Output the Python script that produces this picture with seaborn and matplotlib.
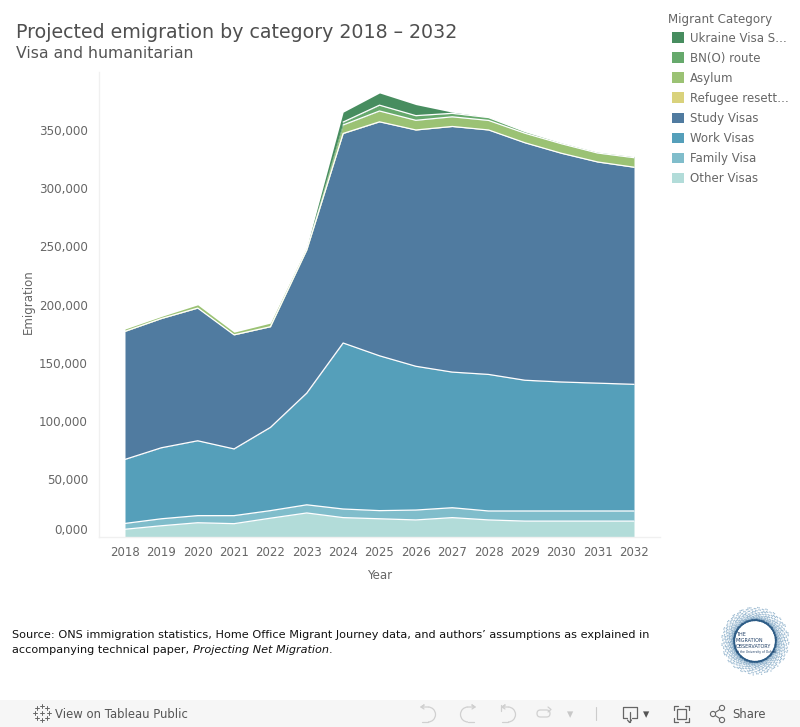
import matplotlib
matplotlib.use("Agg")
import matplotlib.pyplot as plt
from matplotlib.patches import Circle, Rectangle, Patch, Arc, FancyBboxPatch
import numpy as np
import pandas as pd
import seaborn as sns

years = list(range(2018, 2033))
other = [7000, 10000, 12600, 11800, 16500, 21000, 17000, 16000, 15000, 17000, 15000, 14000, 14000, 14000, 14000]
family = [5000, 6000, 6100, 6900, 6500, 7000, 7400, 7000, 8500, 8500, 7700, 8700, 8700, 8700, 8700]
work = [55000, 61000, 64300, 57300, 71500, 96000, 142600, 133000, 123500, 116500, 117300, 112300, 110800, 109800, 108800]
study = [110000, 111000, 114000, 98000, 86500, 123000, 180000, 201000, 203000, 211000, 210000, 204000, 196500, 190000, 186500]
refugee = [300, 300, 300, 300, 300, 300, 300, 300, 300, 300, 200, 200, 200, 200, 200]
asylum = [1700, 1500, 2500, 2000, 2800, 2000, 7000, 9000, 8000, 8000, 8000, 8000, 8000, 7500, 8000]
bno = [0, 0, 0, 0, 0, 0, 2500, 5000, 4000, 3000, 2500, 1500, 1000, 1000, 1000]
ukraine = [0, 0, 0, 0, 0, 0, 8500, 10500, 9500, 1000, 300, 100, 100, 100, 100]

names = ["Other Visas", "Family Visa", "Work Visas", "Study Visas",
         "Refugee resett…", "Asylum", "BN(O) route", "Ukraine Visa S…"]
colors = ["#b2dcd9", "#80bdcb", "#559fba", "#507ba0", "#d9d27c", "#9bc274", "#66a96c", "#478d5f"]
series = [other, family, work, study, refugee, asylum, bno, ukraine]
y_ticks = [0, 50000, 100000, 150000, 200000, 250000, 300000, 350000]
y_labels = ["0,000", "50,000", "100,000", "150,000", "200,000", "250,000", "300,000", "350,000"]

sns.set_theme(style="white")
plt.rcParams["font.family"] = ["DejaVu Sans"]

W, H = 800, 727
fig = plt.figure(figsize=(W / 100, H / 100), dpi=100, facecolor="white")
ax = fig.add_axes([99 / W, 1 - 537.4 / H, 561 / W, 465.4 / H])

cum = np.cumsum(np.array(series, dtype=float), axis=0)
ax.stackplot(years, *series, colors=colors, linewidth=0)
long = pd.DataFrame({
    "Year": np.tile(years, len(names)),
    "Top": cum.ravel(),
    "Above": (cum[-1] - cum).ravel(),
    "Category": np.repeat(names, len(years)),
})
# white separators only where another layer sits above, and none doubling the study line
lines = long[(long["Above"] > 0) & (long["Category"] != names[4])]
sns.lineplot(data=lines, x="Year", y="Top", hue="Category", units="Category", estimator=None,
             palette={n: "white" for n in names}, linewidth=0.9, legend=False, ax=ax, zorder=3)

ax.set_xlim(2017.285, 2032.715)
ax.set_ylim(0, 399800)
ax.set_xticks(years)
ax.set_yticks(y_ticks)
ax.set_yticklabels(y_labels)
ax.yaxis.get_ticklabels()[0].set_verticalalignment("bottom")
ax.tick_params(axis="x", length=4, width=0.8, color="#ececec", labelsize=8.5, labelcolor="#666666", pad=2.5)
ax.tick_params(axis="y", length=5, width=0.8, color="#f0f0f0", labelsize=8.55, labelcolor="#666666", pad=3)
ax.set_xlabel("Year", fontsize=8.5, color="#666666", labelpad=7)
ax.set_ylabel("Emigration", fontsize=8.5, color="#666666", labelpad=3, y=0.507)
sns.despine(ax=ax)
for s in ["left", "bottom"]:
    ax.spines[s].set_color("#f0f0f0")
    ax.spines[s].set_linewidth(1)

handles = [Patch(facecolor=c, edgecolor="none") for c in colors[::-1]]
leg = fig.legend(handles, names[::-1], loc="upper left",
                 bbox_to_anchor=(672 / W, 1 - 31.5 / H), frameon=False, fontsize=8.5,
                 labelcolor="#666666", handlelength=1.02, handleheight=1.0,
                 handletextpad=0.5, labelspacing=0.6, borderpad=0, borderaxespad=0)

ov = fig.add_axes([0, 0, 1, 1], facecolor="none")
ov.set_xlim(0, W)
ov.set_ylim(H, 0)
ov.axis("off")
ov.set_zorder(5)

ov.text(668, 19, "Migrant Category", fontsize=8.6, color="#666666", va="center")
ov.text(16, 32, "Projected emigration by category 2018 – 2032", fontsize=13.7, color="#4f4f4f", va="center")
ov.text(16, 53, "Visa and humanitarian", fontsize=11.3, color="#555555", va="center")

ov.text(12, 635, "Source: ONS immigration statistics, Home Office Migrant Journey data, and authors’ assumptions as explained in",
        fontsize=8.12, color="#111111", va="center")
t = ov.text(12, 650, "accompanying technical paper, ", fontsize=8.12, color="#111111", va="center")
t2 = ov.annotate("Projecting Net Migration", xy=(1, 0.5), xycoords=t, va="center", fontsize=8.12,
                 style="italic", color="#111111")
ov.annotate(".", xy=(1, 0.5), xycoords=t2, va="center", fontsize=8.12, color="#111111")

# logo: speckled ring, deterministic low-discrepancy pattern (decoration, not data)
lx, ly = 755, 641
k = np.arange(1500)
ang = k * 2.39996
frac = (k * 0.75488) % 1
rad = 20.5 + 13.5 * frac ** 2.4
ov.scatter(lx + rad * np.cos(ang), ly + rad * np.sin(ang), s=1.0, linewidths=0,
           c=np.where(frac < 0.4, "#2a5a85", "#7fa6c4"), alpha=0.75)
for dy, s, fs in [(-6, "THE", 3.5), (-1, "MIGRATION", 3.5), (5, "OBSERVATORY", 3.5),
                  (11, "at the University of Oxford", 2.2)]:
    ov.text(lx - 19, ly + dy, s, fontsize=fs, color="#1f3f66", va="center", ha="left")

# toolbar
ov.add_patch(Rectangle((0, 700), W, 27, fc="#f6f6f6", ec="none"))
ov.text(55, 714, "View on Tableau Public", fontsize=8.4, color="#555555", va="center")
ov.text(732, 714, "Share", fontsize=8.4, color="#555555", va="center")
for dx, dy in [(0, -7), (0, 7), (-7, 0), (7, 0), (0, 0), (-5, -5), (5, -5), (-5, 5), (5, 5)]:
    ov.plot([42 + dx - 2, 42 + dx + 2], [713 + dy, 713 + dy], color="#666666", lw=0.7)
    ov.plot([42 + dx, 42 + dx], [713 + dy - 2, 713 + dy + 2], color="#666666", lw=0.7)

light = "#d0d0d0"
ov.add_patch(Arc((428, 714.5), 15, 15, theta1=-90, theta2=90, ec=light, lw=0.9))
ov.plot([428, 421, 424, 421, 424], [707, 707, 705, 707, 709], color=light, lw=0.9)
ov.plot([428, 422], [722, 722], color=light, lw=0.9)
ov.add_patch(Arc((468, 714.5), 15, 15, theta1=90, theta2=270, ec=light, lw=0.9))
ov.plot([468, 475, 472, 475, 472], [707, 707, 705, 707, 709], color=light, lw=0.9)
ov.plot([468, 474], [722, 722], color=light, lw=0.9)
ov.add_patch(Arc((508, 714.5), 15, 15, theta1=-90, theta2=90, ec=light, lw=0.9))
ov.plot([508, 502, 505, 502, 505], [707, 707, 705, 707, 709], color=light, lw=0.9)
ov.plot([508, 502], [722, 722], color=light, lw=0.9)
ov.plot([500.5, 500.5], [705, 711], color=light, lw=0.9)
ov.add_patch(FancyBboxPatch((537, 710), 13, 7, boxstyle="round,pad=0,rounding_size=3.5", fill=False, ec=light, lw=0.9))
ov.plot([548, 551, 548], [707, 709.5, 712], color=light, lw=0.9)
ov.text(570, 714.5, "▾", fontsize=9, color="#c8c8c8", ha="center", va="center")
ov.plot([595.5, 595.5], [707, 720], color="#cccccc", lw=0.8)

dark = "#666666"
ov.plot([627, 622.5, 622.5, 636.5, 636.5, 632], [718, 718, 707, 707, 718, 718], color=dark, lw=0.9)
ov.plot([629.5, 629.5], [712, 722], color=dark, lw=0.9)
ov.plot([627.5, 629.5, 631.5], [720, 722.5, 720], color=dark, lw=0.9)
ov.text(646, 714.5, "▾", fontsize=9, color="#555555", ha="center", va="center")
ov.add_patch(Rectangle((677, 709), 9, 10, fill=False, ec=dark, lw=0.9))
for cx, sx in [(673.5, 1), (689, -1)]:
    for cy, sy in [(706, 1), (722, -1)]:
        ov.plot([cx, cx, cx + 4 * sx], [cy + 4 * sy, cy, cy], color=dark, lw=0.9)
ov.plot([722, 713, 722], [708, 714, 720], color=dark, lw=0.8)
for cx, cy, r in [(722, 708, 2.6), (713, 714, 2.6), (722, 720, 2.6)]:
    ov.add_patch(Circle((cx, cy), r, fc="#f6f6f6", ec=dark, lw=0.8, zorder=3))

fig.savefig("out.png", dpi=100, facecolor="white")
